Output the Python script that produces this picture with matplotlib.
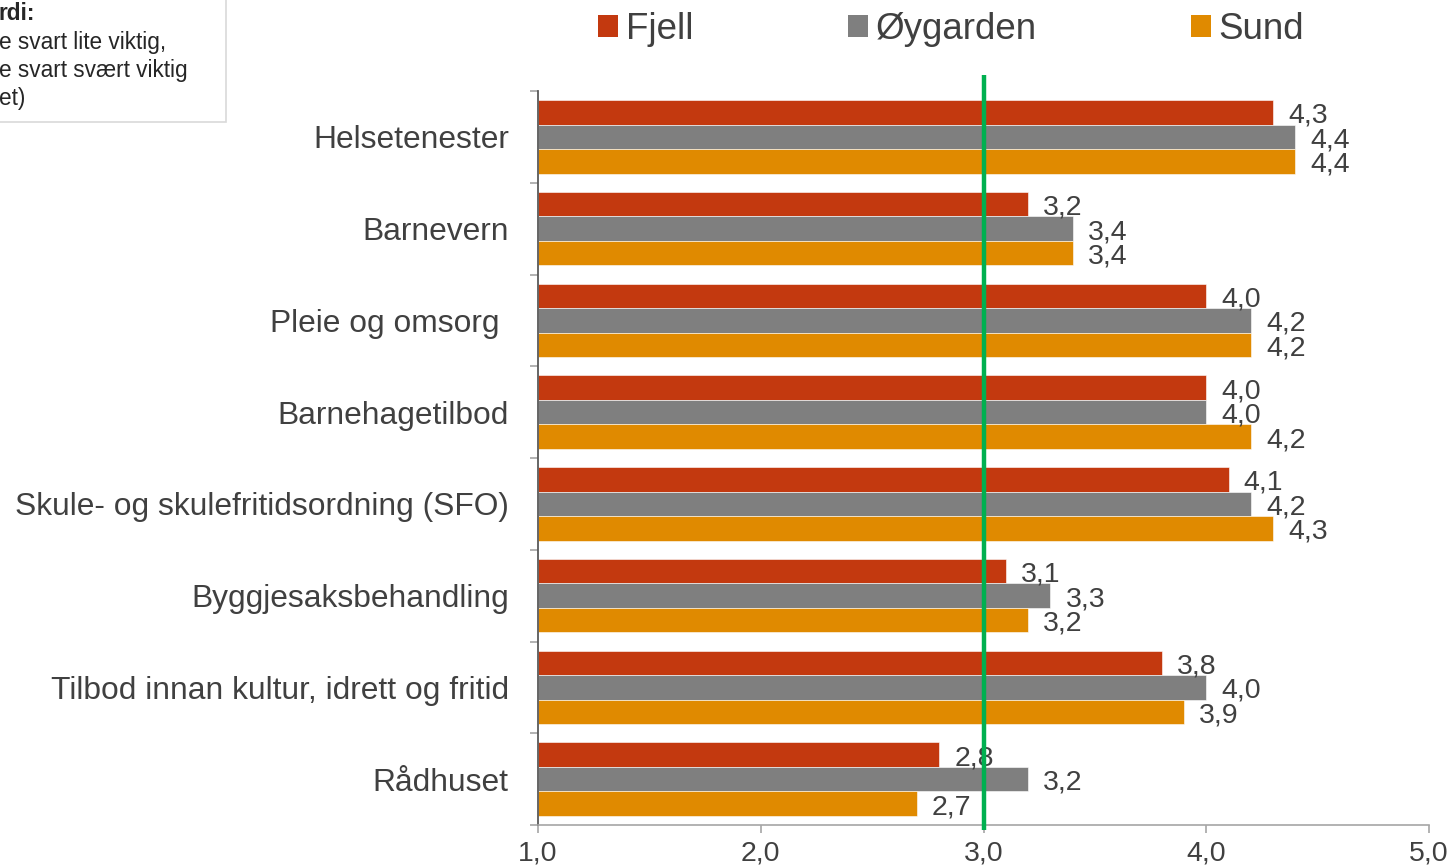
import matplotlib
matplotlib.use("Agg")
import matplotlib.pyplot as plt
import matplotlib.transforms as mtransforms
from matplotlib.patches import Patch, Rectangle
import numpy as np

plt.rcParams['font.family'] = ['Liberation Sans', 'DejaVu Sans']

categories = ["Helsetenester", "Barnevern", "Pleie og omsorg ", "Barnehagetilbod",
              "Skule- og skulefritidsordning (SFO)", "Byggjesaksbehandling",
              "Tilbod innan kultur, idrett og fritid", "Rådhuset"]
fjell = [4.3, 3.2, 4.0, 4.0, 4.1, 3.1, 3.8, 2.8]
oygarden = [4.4, 3.4, 4.2, 4.0, 4.2, 3.3, 4.0, 3.2]
sund = [4.4, 3.4, 4.2, 4.2, 4.3, 3.2, 3.9, 2.7]
series_names = ["Fjell", "Øygarden", "Sund"]
colors = ["#C3390F", "#7F7F7F", "#E08A00"]
xticks = [1.0, 2.0, 3.0, 4.0, 5.0]
ref_value = 3.0
note_lines = ["rdi:", "e svart lite viktig,", "e svart svært viktig", "et)"]

TXT = "#404040"
W, H = 1455, 867
fig = plt.figure(figsize=(W / 100, H / 100), dpi=100)
ax = fig.add_axes([538 / W, 1 - 825 / H, (1429 - 538) / W, (825 - 91) / H])

y = np.arange(len(categories))
h = 0.8 / 3
for k, (vals, name, col) in enumerate(zip([fjell, oygarden, sund], series_names, colors)):
    pos = y + (k - 1) * h
    ax.barh(pos, [v - 1.0 for v in vals], left=1.0, height=h, color=col,
            edgecolor="#FFFFFF", linewidth=0.4, label=name, zorder=2)
    for p, v in zip(pos, vals):
        ax.annotate(f"{v:.1f}".replace(".", ","), xy=(v, p), xytext=(11, -2.5),
                    textcoords="offset points", ha="left", va="center",
                    fontsize=20.5, color=TXT, zorder=3)

ax.set_xlim(1, 5)
ax.set_ylim(len(categories) - 0.5, -0.5)
ax.set_xticks(xticks)
ax.set_xticklabels([f"{t:.1f}".replace(".", ",") for t in xticks], fontsize=20.5, color=TXT)
ax.set_yticks(y)
ax.set_yticklabels(categories, fontsize=22.9, color=TXT)
ax.set_yticks(np.arange(len(categories) + 1) - 0.5, minor=True)
ax.tick_params(axis="y", which="major", length=0, pad=21)
ax.tick_params(axis="y", which="minor", length=6, width=1.2, color="#A6A6A6", direction="out")
ax.tick_params(axis="x", which="major", length=6, width=1.2, color="#A6A6A6", pad=5)
for s in ["top", "right"]:
    ax.spines[s].set_visible(False)
ax.spines["left"].set_color("#595959")
ax.spines["left"].set_linewidth(1.3)
ax.spines["bottom"].set_color("#A6A6A6")
ax.spines["bottom"].set_linewidth(1.2)

trans = mtransforms.blended_transform_factory(ax.transData, ax.transAxes)
ax.plot([ref_value, ref_value], [-0.007, 1.022], transform=trans, color="#00B050",
        linewidth=3.2, clip_on=False, zorder=4, solid_capstyle="butt")

handles = [Patch(facecolor=c, edgecolor="none") for c in colors]
fig.legend(handles, series_names, loc="upper left", bbox_to_anchor=(598 / W, 1 - 12 / H),
           ncol=3, frameon=False, fontsize=26.5, handlelength=0.55, handleheight=0.55,
           handletextpad=0.2, columnspacing=4.2, borderpad=0, borderaxespad=0,
           labelcolor=TXT)

# note box (partly outside the figure)
fig.patches.append(Rectangle((-10 / W, 1 - 122 / H), 236 / W, 140 / H,
                             transform=fig.transFigure, facecolor="white",
                             edgecolor="#D9D9D9", linewidth=1.2, zorder=0))
ys = [13, 42, 70, 98]
for i, (line, yy) in enumerate(zip(note_lines, ys)):
    fig.text(-1 / W, 1 - yy / H, line, fontsize=16.3, color="#262626",
             fontweight="bold" if i == 0 else "normal", ha="left", va="center")

fig.savefig("out.png", dpi=100)
